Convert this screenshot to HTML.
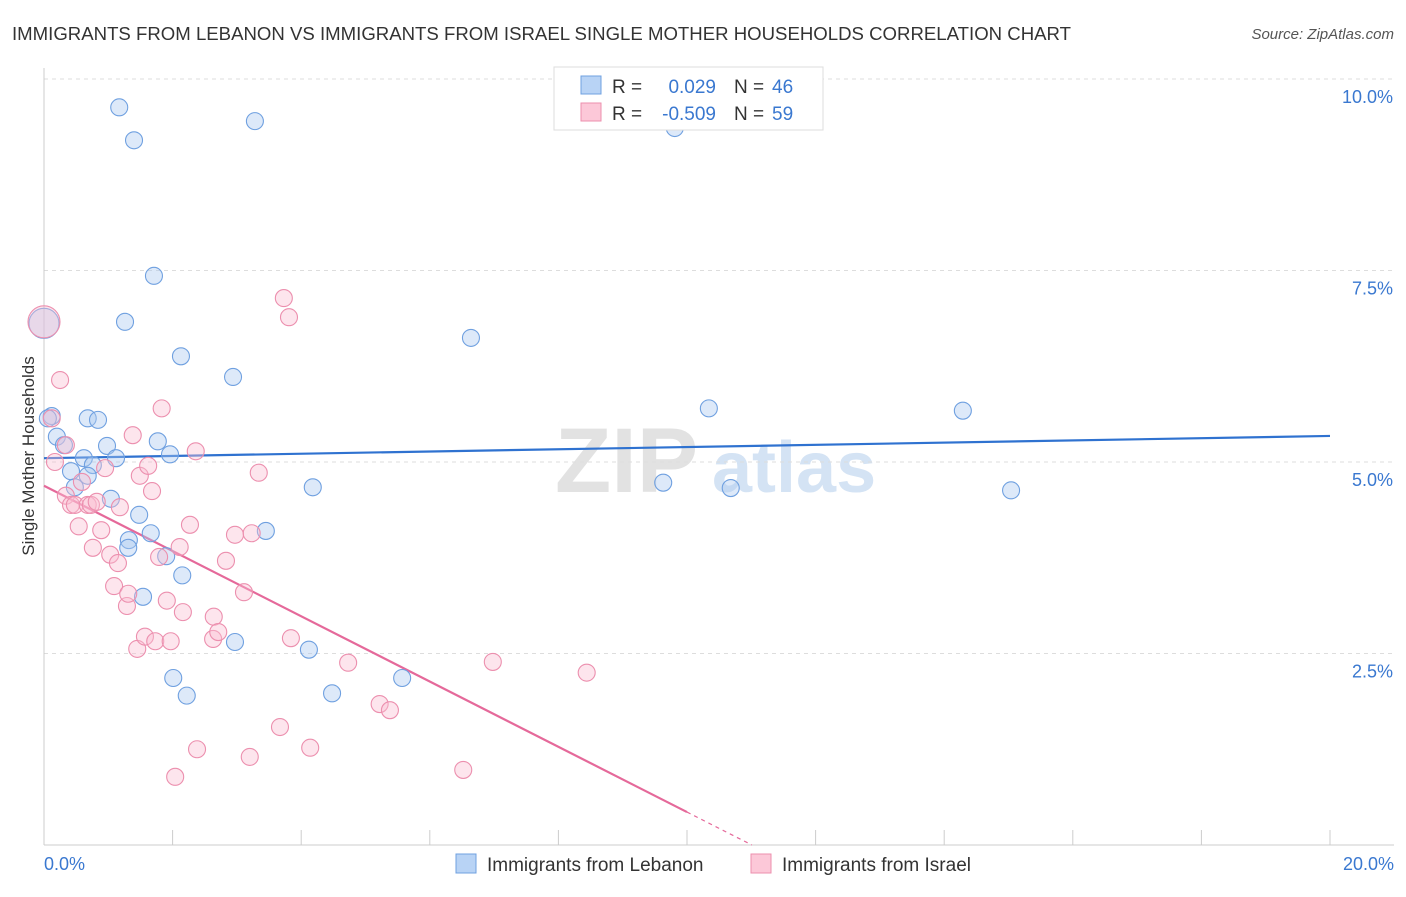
<!DOCTYPE html>
<html><head><meta charset="utf-8"><style>
body{margin:0;background:#fff;font-family:"Liberation Sans",sans-serif;}
svg text{font-family:"Liberation Sans",sans-serif;}
</style></head><body>
<svg width="1406" height="892" id="chart">
<text x="12" y="40" font-size="18.6" fill="#333" textLength="1059">IMMIGRANTS FROM LEBANON VS IMMIGRANTS FROM ISRAEL SINGLE MOTHER HOUSEHOLDS CORRELATION CHART</text>
<text x="1394" y="39" font-size="15" fill="#555" font-style="italic" text-anchor="end">Source: ZipAtlas.com</text>
<text x="0" y="0" transform="translate(34,456) rotate(-90)" font-size="17" fill="#333" text-anchor="middle">Single Mother Households</text>
<g><text x="555" y="492" font-size="92" fill="#e2e2e2" font-family="Liberation Serif" font-weight="bold">ZIP</text><text x="712" y="492" font-size="72" fill="#d4e3f4" font-weight="bold">atlas</text></g>
<g id="grid"></g><g id="axes"></g><g id="lines"></g><g id="pts"></g>
<g>
<rect x="554" y="67" width="269" height="63" fill="#fff" stroke="#ddd"/>
<rect x="581" y="76" width="20" height="18" fill="#b8d3f5" stroke="#6fa0e0"/>
<rect x="581" y="103" width="20" height="18" fill="#fcc8d8" stroke="#ec8fae"/>
<text x="612" y="93" font-size="19" fill="#333">R =</text>
<text x="716" y="93" font-size="19" fill="#3a78d0" text-anchor="end">0.029</text>
<text x="734" y="93" font-size="19" fill="#333">N =</text>
<text x="772" y="93" font-size="19" fill="#3a78d0">46</text>
<text x="612" y="120" font-size="19" fill="#333">R =</text>
<text x="716" y="120" font-size="19" fill="#3a78d0" text-anchor="end">-0.509</text>
<text x="734" y="120" font-size="19" fill="#333">N =</text>
<text x="772" y="120" font-size="19" fill="#3a78d0">59</text>
</g>
<g>
<rect x="456" y="854" width="20" height="19" fill="#b8d3f5" stroke="#6fa0e0"/>
<text x="487" y="871" font-size="19" fill="#333">Immigrants from Lebanon</text>
<rect x="751" y="854" width="20" height="19" fill="#fcc8d8" stroke="#ec8fae"/>
<text x="782" y="871" font-size="19" fill="#333">Immigrants from Israel</text>
</g>
</svg>
<script>
const xTicks=[0,2,4,6,8,10,12,14,16,18,20];
const yTicks=[2.5,5,7.5,10];
const yTickLabels=["2.5%","5.0%","7.5%","10.0%"];
const xTickLabels=["0.0%","20.0%"];
const lebanonX=[1.17,1.40,3.28,9.81,1.71,1.26,2.13,2.94,6.64,0.0,0.12,0.68,0.84,0.20,0.31,0.98,1.77,1.96,1.12,0.62,0.76,0.42,0.68,0.48,1.04,1.48,1.66,1.32,1.31,1.90,2.15,1.54,4.18,3.45,2.97,4.12,2.01,2.22,4.48,5.57,10.34,14.29,9.63,10.68,15.04,0.06];
const lebanonY=[9.63,9.20,9.45,9.36,7.43,6.83,6.38,6.11,6.62,6.81,5.60,5.57,5.55,5.33,5.22,5.21,5.27,5.10,5.05,5.05,4.96,4.88,4.82,4.67,4.52,4.31,4.07,3.98,3.88,3.77,3.52,3.24,4.67,4.10,2.65,2.55,2.18,1.95,1.98,2.18,5.70,5.67,4.73,4.66,4.63,5.57];
const israelX=[0.0,0.12,0.17,0.25,0.34,0.34,0.42,0.48,0.54,0.59,0.68,0.73,0.82,0.76,0.89,0.95,1.03,1.09,1.15,1.18,1.29,1.31,1.38,1.45,1.49,1.57,1.62,1.68,1.73,1.79,1.83,1.91,1.97,2.11,2.16,2.27,2.36,2.38,2.04,2.64,2.63,2.71,2.83,2.97,3.11,3.20,3.23,3.34,3.67,3.73,3.81,3.84,4.14,4.73,5.22,5.38,6.52,6.98,8.44];
const israelY=[6.83,5.57,5.00,6.07,5.22,4.56,4.44,4.44,4.16,4.74,4.44,4.44,4.48,3.88,4.11,4.92,3.79,3.38,3.68,4.41,3.12,3.28,5.35,2.56,4.82,2.72,4.95,4.62,2.66,3.76,5.70,3.19,2.66,3.89,3.04,4.18,5.14,1.25,0.89,2.98,2.69,2.78,3.71,4.05,3.30,1.15,4.07,4.86,1.54,7.14,6.89,2.70,1.27,2.38,1.84,1.76,0.98,2.39,2.25];
const blueLine=[5.05,0.0145];
const pinkLine=[4.69,-0.426];
const X=v=>44+v/20*1286, Y=v=>845-v*76.6;
const NS="http://www.w3.org/2000/svg";
function mk(p,t,a){const e=document.createElementNS(NS,t);for(const k in a)e.setAttribute(k,a[k]);document.getElementById(p).appendChild(e);return e;}
yTicks.forEach((t,i)=>{
 const g=mk('grid','line',{x1:44,x2:1394,y1:Y(t),y2:Y(t),stroke:'#ddd','stroke-dasharray':'4,4'});
 
 
 const l=mk('axes','text',{x:1393,y:Y(t)+24,'font-size':18,fill:'#3a78d0','text-anchor':'end'});l.textContent=yTickLabels[i];
 
 
});
const ax=mk('axes','line',{x1:44,x2:1394,y1:845,y2:845,stroke:'#ccc'});


const ay=mk('axes','line',{x1:44,x2:44,y1:68,y2:845,stroke:'#ccc'});


xTicks.forEach(t=>{const k=mk('axes','line',{x1:X(t),x2:X(t),y1:830,y2:845,stroke:'#ccc'});
 
 });
const xl0=mk('axes','text',{x:44,y:870,'font-size':18,fill:'#3a78d0'});xl0.textContent=xTickLabels[0];


const xl1=mk('axes','text',{x:1394,y:870,'font-size':18,fill:'#3a78d0','text-anchor':'end'});xl1.textContent=xTickLabels[1];


function dot(x,y,fill,stroke,r,name){const c=mk('pts','circle',{cx:X(x),cy:Y(y),r:r,fill:fill,stroke:stroke,'stroke-width':1.1});
 
 }
lebanonX.forEach((x,i)=>dot(x,lebanonY[i],'rgba(170,200,240,0.4)','#6fa0e0',i==9?15:8.5,'lebanon-point'));
israelX.forEach((x,i)=>dot(x,israelY[i],'rgba(250,190,210,0.4)','#ec8fae',i==0?16:8.5,'israel-point'));
const bl=mk('lines','line',{x1:X(0),y1:Y(blueLine[0]),x2:X(20),y2:Y(blueLine[0]+blueLine[1]*20),stroke:'#2f72d0','stroke-width':2.2});


const pEnd=10, pZero=-pinkLine[0]/pinkLine[1];
const pl=mk('lines','line',{x1:X(0),y1:Y(pinkLine[0]),x2:X(pEnd),y2:Y(pinkLine[0]+pinkLine[1]*pEnd),stroke:'#e5699a','stroke-width':2.2});


const pd=mk('lines','line',{x1:X(pEnd),y1:Y(pinkLine[0]+pinkLine[1]*pEnd),x2:X(pZero),y2:Y(0),stroke:'#e5699a','stroke-width':1.2,'stroke-dasharray':'4,4'});


</script>
</body></html>
